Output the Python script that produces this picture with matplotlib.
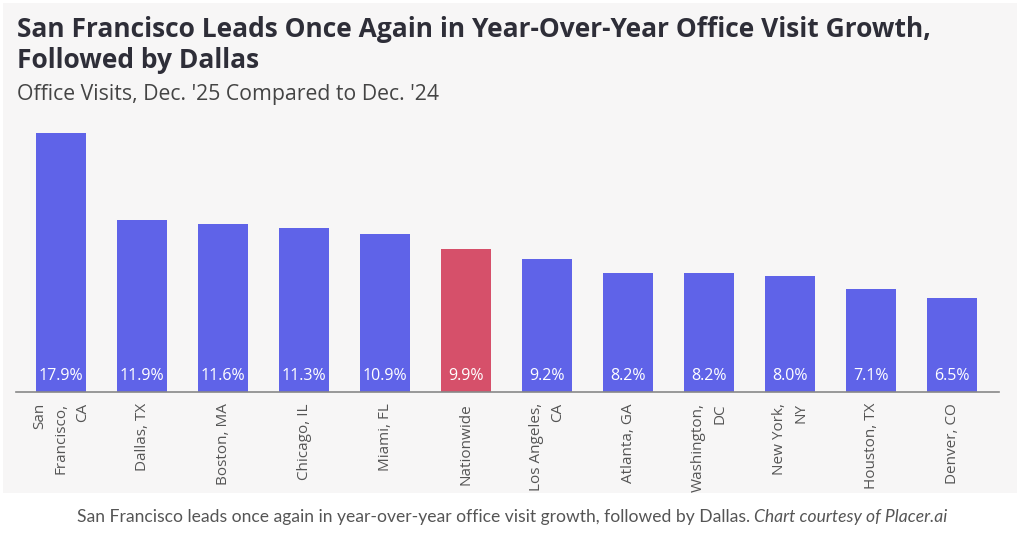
import matplotlib.pyplot as plt
from matplotlib.patches import Rectangle

# data
cities = ["San\nFrancisco,\nCA", "Dallas, TX", "Boston, MA", "Chicago, IL", "Miami, FL",
          "Nationwide", "Los Angeles,\nCA", "Atlanta, GA", "Washington,\nDC", "New York,\nNY",
          "Houston, TX", "Denver, CO"]
growth = [17.9, 11.9, 11.6, 11.3, 10.9, 9.9, 9.2, 8.2, 8.2, 8.0, 7.1, 6.5]
highlight = "Nationwide"

W, H = 1024, 534
fig = plt.figure(figsize=(W / 100, H / 100), dpi=100)
fig.patch.set_facecolor("white")

# light gray panel behind the chart
fig.patches.append(Rectangle((3 / W, (H - 493) / H), 1014 / W, 490 / H,
                             transform=fig.transFigure, facecolor="#f7f6f6",
                             edgecolor="none", zorder=-10))

# axes placed in pixel terms: baseline at y=392, line from x=16 to 999
ax = fig.add_axes([16 / W, (H - 392) / H, 983 / W, 275 / H])
ax.set_facecolor("none")

blue = "#5f63e8"
red = "#d6506a"
colors = [red if c == highlight else blue for c in cities]
x = list(range(len(cities)))
bars = ax.bar(x, growth, width=0.62, color=colors, zorder=2)

for b, v in zip(bars, growth):
    ax.annotate(f"{v}%", (b.get_x() + b.get_width() / 2, 0), xytext=(0, 11.5),
                textcoords="offset points", ha="center", va="center",
                color="white", fontsize=11.5, family="Open Sans")

# category labels, rotated, lines right-aligned
for i, c in zip(x, cities):
    ax.annotate(c, (i, 0), xycoords=ax.get_xaxis_transform(), xytext=(0, -8),
                textcoords="offset points", rotation=90, ha="center", va="top",
                multialignment="right", linespacing=1.6, fontsize=11,
                family="Open Sans", color="#555555", annotation_clip=False)

ax.set_xlim(-0.556, 11.58)
ax.set_ylim(0, 19)
ax.set_yticks([])
ax.set_xticks([])
for s in ["top", "right", "left"]:
    ax.spines[s].set_visible(False)
ax.spines["bottom"].set_color("#888888")
ax.spines["bottom"].set_linewidth(1.2)

# titles
fig.text(17 / W, 1 - 37 / H, "San Francisco Leads Once Again in Year-Over-Year Office Visit Growth,",
         ha="left", va="baseline", fontsize=19, fontweight="bold", family="Open Sans",
         color="#2e2e38")
fig.text(17 / W, 1 - 68 / H, "Followed by Dallas",
         ha="left", va="baseline", fontsize=19, fontweight="bold", family="Open Sans",
         color="#2e2e38")
fig.text(17 / W, 1 - 100 / H, "Office Visits, Dec. '25 Compared to Dec. '24",
         ha="left", va="baseline", fontsize=15.3, family="Open Sans", color="#444444")

# caption with italic tail
part1 = "San Francisco leads once again in year-over-year office visit growth, followed by Dallas. "
part2 = "Chart courtesy of Placer.ai"
renderer = fig.canvas.get_renderer()
t1 = fig.text(0, 1 - 517 / H, part1, ha="left", va="center", fontsize=12.6,
              family="Lato", color="#555555")
t2 = fig.text(0, 1 - 517 / H, part2, ha="left", va="center", fontsize=12.6,
              family="Lato", style="italic", color="#555555")
w1 = t1.get_window_extent(renderer).width
w2 = t2.get_window_extent(renderer).width
start = (W - w1 - w2) / 2
t1.set_x(start / W)
t2.set_x((start + w1) / W)

fig.savefig("out.png", dpi=100, facecolor=fig.get_facecolor())
